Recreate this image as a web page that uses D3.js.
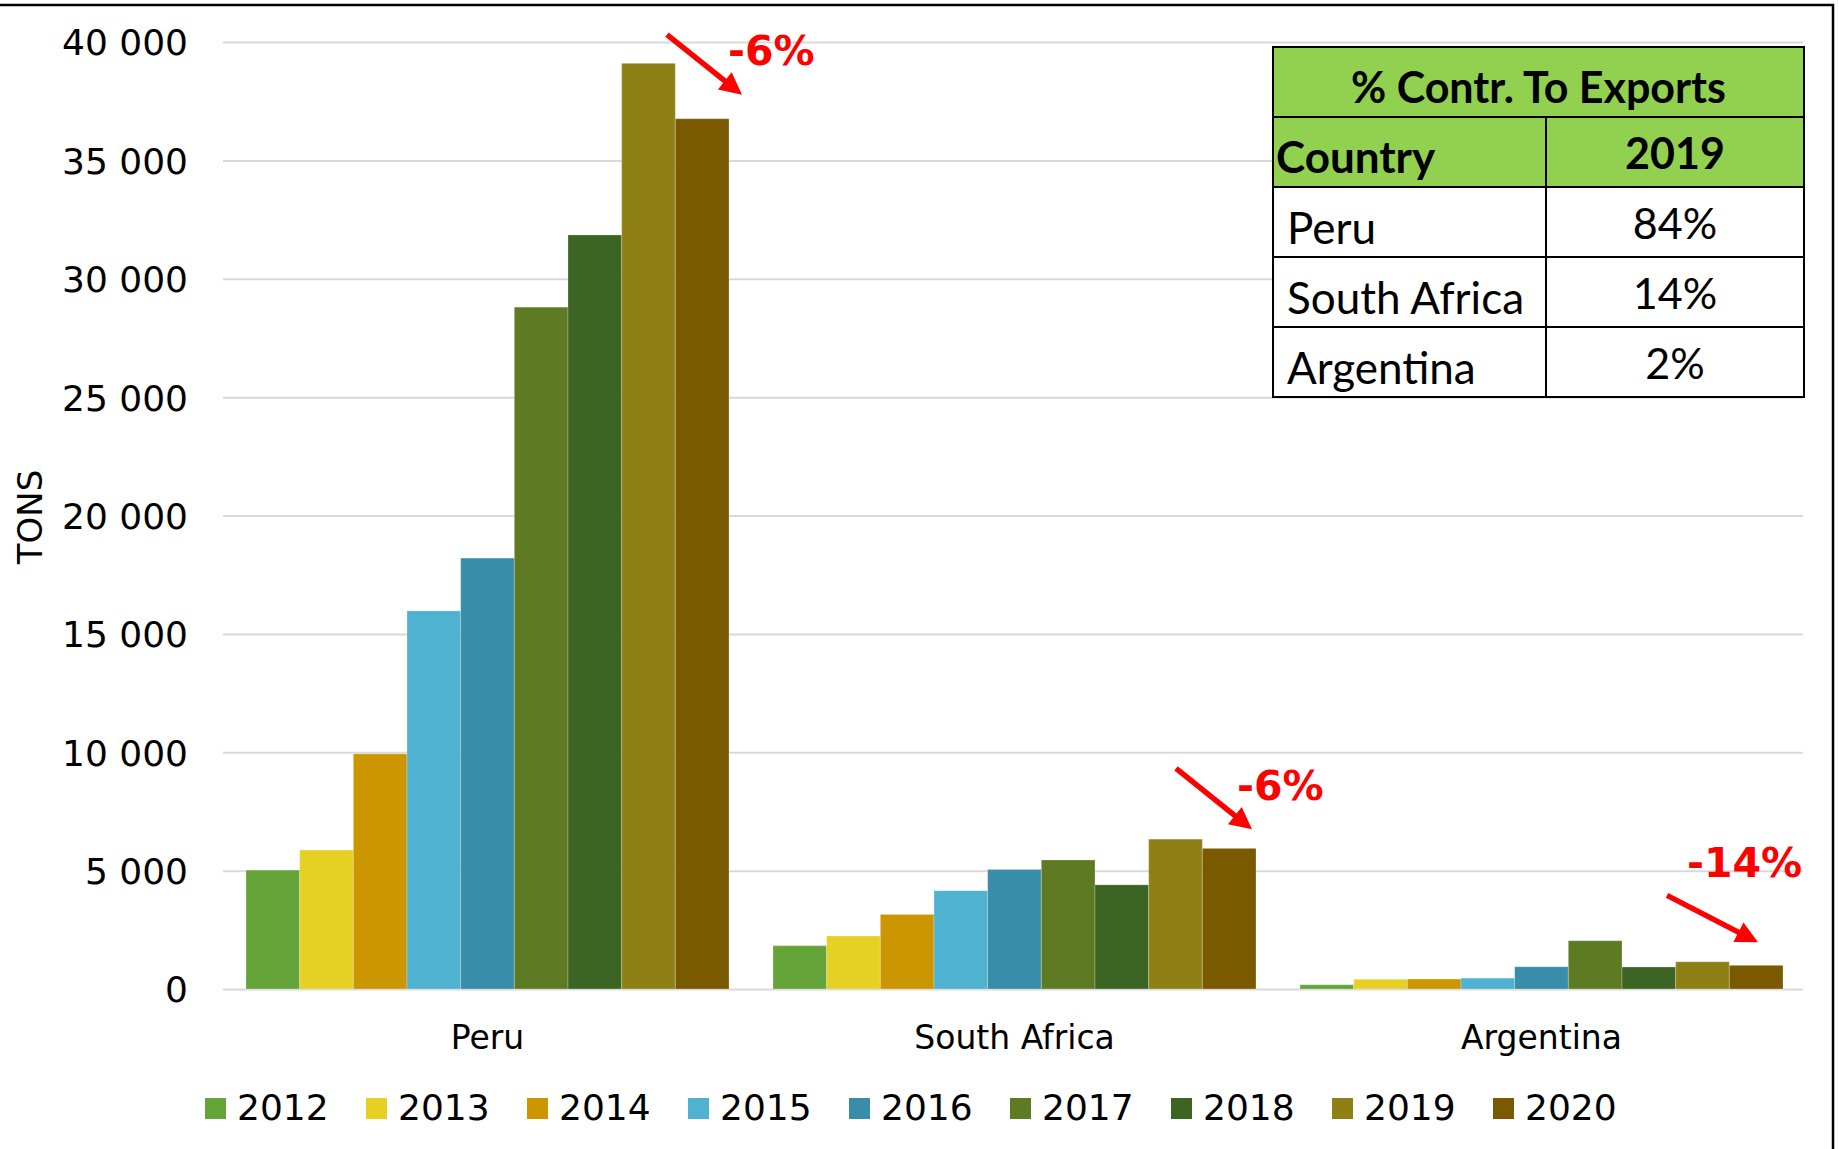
<!DOCTYPE html>
<html>
<head>
<meta charset="utf-8">
<script src="https://cdn.jsdelivr.net/npm/d3@7"></script>
<style>
  body { margin: 0; background: #fff; }
  svg { display: block; }
</style>
</head>
<body>
<svg id="chart" width="1839" height="1149"></svg>
<script>
// data
var countries = ["Peru", "South Africa", "Argentina"];
var years = ["2012", "2013", "2014", "2015", "2016", "2017", "2018", "2019", "2020"];
var peru = [5020, 5870, 9930, 15970, 18200, 28800, 31850, 39100, 36760];
var southAfrica = [1830, 2240, 3150, 4150, 5050, 5450, 4400, 6330, 5940];
var argentina = [180, 410, 420, 460, 940, 2040, 930, 1150, 1000];
var yTicks = [0, 5000, 10000, 15000, 20000, 25000, 30000, 35000, 40000];
var changeLabels = ["-6%", "-6%", "-14%"];
var tableTitle = "% Contr. To Exports";
var tableHead = ["Country", "2019"];
var tableRows = [["Peru", "84%"], ["South Africa", "14%"], ["Argentina", "2%"]];

var palette = {
  "2012": "#64a438", "2013": "#e6d024", "2014": "#cc9600",
  "2015": "#4eb2d0", "2016": "#388da8", "2017": "#5e7a22",
  "2018": "#3c6524", "2019": "#8e8014", "2020": "#7a5a00"
};
var seriesByCountry = [peru, southAfrica, argentina];

var svg = d3.select("#chart");
var chartFont = "'DejaVu Sans', sans-serif";
var tableFont = "Lato, 'Open Sans', sans-serif";

var plotLeft = 224, plotRight = 1805, plotTop = 42, plotBottom = 989;

var y = d3.scaleLinear().domain([0, 40000]).range([plotBottom, plotTop]);
var x0 = d3.scaleBand().domain(countries).range([plotLeft, plotRight])
    .paddingInner(0.0835).paddingOuter(0.0835 / 2);
var x1 = d3.scaleBand().domain(years).range([0, x0.bandwidth()]);

var spaceFmt = d3.formatLocale({decimal: ".", thousands: " ", grouping: [3], currency: ["", ""]}).format(",");

// gridlines + tick labels
var yAxis = svg.append("g")
    .attr("transform", "translate(223,0)")
    .call(d3.axisLeft(y).tickValues(yTicks).tickSize(-(1803 - 223)).tickPadding(35).tickFormat(spaceFmt));
yAxis.select(".domain").remove();
yAxis.selectAll("line").attr("stroke", "#d9d9d9").attr("stroke-width", 2);
yAxis.selectAll("text")
    .attr("font-family", chartFont)
    .attr("font-size", 36)
    .attr("fill", "#000")
    .attr("dy", "0.36em");

svg.append("text")
    .attr("transform", "translate(42,517) rotate(-90)")
    .attr("text-anchor", "middle")
    .attr("font-family", chartFont)
    .attr("font-size", 34)
    .text("TONS");

// bars
var groups = svg.append("g").selectAll("g")
    .data(countries)
    .join("g")
    .attr("transform", function(d) { return "translate(" + x0(d) + ",0)"; });

groups.selectAll("rect")
    .data(function(d, i) {
      return years.map(function(yr, j) { return {year: yr, value: seriesByCountry[i][j]}; });
    })
    .join("rect")
    .attr("x", function(d) { return x1(d.year); })
    .attr("y", function(d) { return y(d.value); })
    .attr("width", x1.bandwidth())
    .attr("height", function(d) { return plotBottom - y(d.value); })
    .attr("fill", function(d) { return palette[d.year]; })
    .attr("stroke", "#ffffff")
    .attr("stroke-opacity", 0.25)
    .attr("stroke-width", 1);

// category labels
var xAxis = svg.append("g")
    .attr("transform", "translate(0," + plotBottom + ")")
    .call(d3.axisBottom(x0).tickSize(0).tickPadding(37));
xAxis.select(".domain").remove();
xAxis.selectAll("text")
    .attr("font-family", chartFont)
    .attr("font-size", 33)
    .attr("fill", "#000");

// legend
var legend = svg.append("g").selectAll("g")
    .data(years)
    .join("g")
    .attr("transform", function(d, i) { return "translate(" + (205 + i * 161) + ",1098)"; });
legend.append("rect")
    .attr("width", 21).attr("height", 21)
    .attr("fill", function(d) { return palette[d]; });
legend.append("text")
    .attr("x", 32).attr("y", 22)
    .attr("font-family", chartFont)
    .attr("font-size", 36)
    .text(function(d) { return d; });

// red change annotations, anchored to the 2020 bar of each country
var arrowTip = [[13, -24], [-4, -19], [-25, -23]];
var arrowVec = [[75, 60], [76, 61], [91, 47]];
var labelPos = [[-1, -54], [-19, -48], [-96, -88]];

countries.forEach(function(c, i) {
  var bx = x0(c) + x1("2020") + x1.bandwidth();
  var by = y(seriesByCountry[i][8]);
  var tx = bx + arrowTip[i][0], ty = by + arrowTip[i][1];
  var vx = arrowVec[i][0], vy = arrowVec[i][1];
  var len = Math.sqrt(vx * vx + vy * vy);
  var ux = vx / len, uy = vy / len;
  var head = 22, half = 11;
  var hx = tx - ux * head, hy = ty - uy * head;

  svg.append("line")
      .attr("x1", tx - vx).attr("y1", ty - vy)
      .attr("x2", hx + ux * 2).attr("y2", hy + uy * 2)
      .attr("stroke", "#ff0000")
      .attr("stroke-width", 5.5);
  svg.append("path")
      .attr("d", "M" + tx + "," + ty +
                 "L" + (hx - uy * half) + "," + (hy + ux * half) +
                 "L" + (hx + uy * half) + "," + (hy - ux * half) + "Z")
      .attr("fill", "#ff0000");

  svg.append("text")
      .attr("x", bx + labelPos[i][0])
      .attr("y", by + labelPos[i][1])
      .attr("font-family", chartFont)
      .attr("font-weight", "bold")
      .attr("font-size", 41)
      .attr("fill", "#ff0000")
      .text(changeLabels[i]);
});

// contribution table
var tx0 = 1273, tx1 = 1546, tx2 = 1804, rowH = 70, ty0 = 47;
var table = svg.append("g");
table.append("rect")
    .attr("x", tx0).attr("y", ty0)
    .attr("width", tx2 - tx0).attr("height", rowH * 2)
    .attr("fill", "#92d050");
table.append("rect")
    .attr("x", tx0).attr("y", ty0 + rowH * 2)
    .attr("width", tx2 - tx0).attr("height", rowH * tableRows.length)
    .attr("fill", "#fff");

var lines = table.append("g").attr("stroke", "#000").attr("stroke-width", 2);
lines.append("rect")
    .attr("x", tx0).attr("y", ty0)
    .attr("width", tx2 - tx0).attr("height", rowH * (2 + tableRows.length))
    .attr("fill", "none");
d3.range(1, 2 + tableRows.length).forEach(function(r) {
  lines.append("line")
      .attr("x1", tx0).attr("x2", tx2)
      .attr("y1", ty0 + r * rowH).attr("y2", ty0 + r * rowH);
});
lines.append("line")
    .attr("x1", tx1).attr("x2", tx1)
    .attr("y1", ty0 + rowH).attr("y2", ty0 + rowH * (2 + tableRows.length));

table.append("text")
    .attr("x", (tx0 + tx2) / 2).attr("y", ty0 + 56)
    .attr("text-anchor", "middle")
    .attr("font-family", tableFont).attr("font-weight", "bold").attr("font-size", 43)
    .text(tableTitle);
table.append("text")
    .attr("x", tx0 + 3).attr("y", ty0 + rowH + 56)
    .attr("font-family", tableFont).attr("font-weight", "bold").attr("font-size", 44)
    .text(tableHead[0]);
table.append("text")
    .attr("x", (tx1 + tx2) / 2).attr("y", ty0 + rowH + 52)
    .attr("text-anchor", "middle")
    .attr("font-family", tableFont).attr("font-weight", "bold").attr("font-size", 43)
    .text(tableHead[1]);

var rows = table.selectAll("g.row")
    .data(tableRows)
    .join("g")
    .attr("class", "row")
    .attr("transform", function(d, i) { return "translate(0," + (ty0 + rowH * (i + 2)) + ")"; });
rows.append("text")
    .attr("x", tx0 + 14).attr("y", 57)
    .attr("font-family", tableFont).attr("font-size", 44)
    .text(function(d) { return d[0]; });
rows.append("text")
    .attr("x", (tx1 + tx2) / 2).attr("y", 52)
    .attr("text-anchor", "middle")
    .attr("font-family", tableFont).attr("font-size", 43)
    .text(function(d) { return d[1]; });

// frame lines at top and right edge
svg.append("line").attr("x1", 0).attr("x2", 1834).attr("y1", 5).attr("y2", 5)
    .attr("stroke", "#000").attr("stroke-width", 2.5);
svg.append("line").attr("x1", 1833).attr("x2", 1833).attr("y1", 4).attr("y2", 1149)
    .attr("stroke", "#000").attr("stroke-width", 2.5);
</script>
</body>
</html>
